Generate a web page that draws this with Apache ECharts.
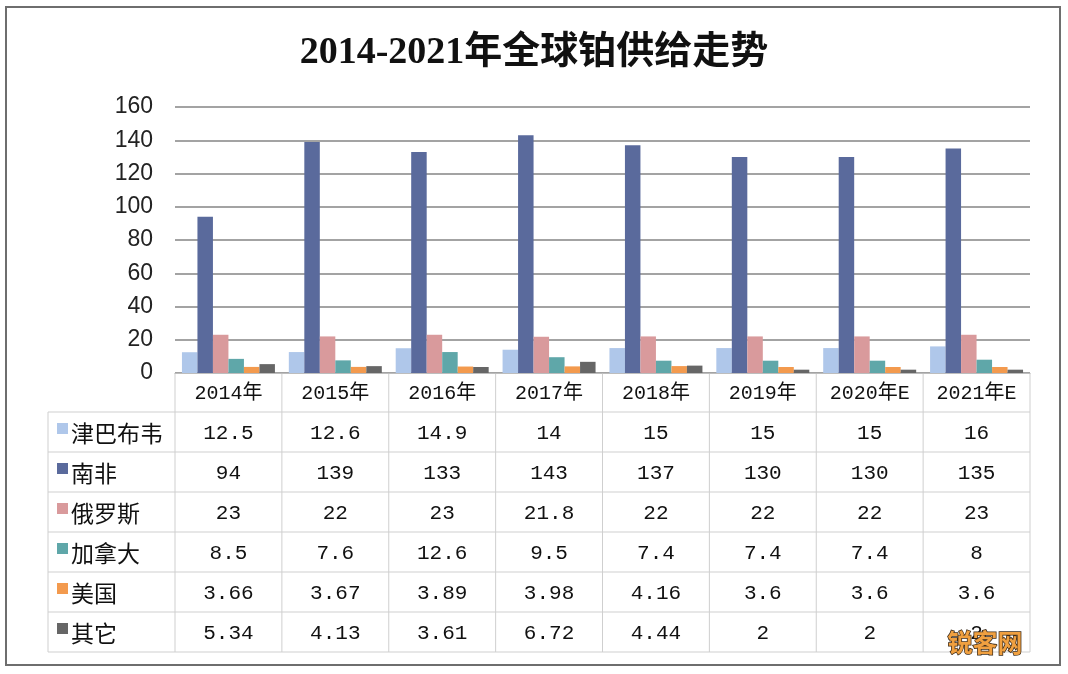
<!DOCTYPE html>
<html><head><meta charset="utf-8">
<script src="https://cdn.jsdelivr.net/npm/echarts@6/dist/echarts.min.js"></script>
<style>html,body{margin:0;padding:0;background:#fff}#c{width:1068px;height:674px}</style>
</head><body><div id="c"></div>
<script>
const titleText = '2014-2021年全球铂供给走势';
const categories = ['2014年','2015年','2016年','2017年','2018年','2019年','2020年E','2021年E'];
const seriesNames = ['津巴布韦','南非','俄罗斯','加拿大','美国','其它'];
const zimbabwe    = [12.5, 12.6, 14.9, 14, 15, 15, 15, 16];
const southAfrica = [94, 139, 133, 143, 137, 130, 130, 135];
const russia      = [23, 22, 23, 21.8, 22, 22, 22, 23];
const canada      = [8.5, 7.6, 12.6, 9.5, 7.4, 7.4, 7.4, 8];
const usa         = [3.66, 3.67, 3.89, 3.98, 4.16, 3.6, 3.6, 3.6];
const others      = [5.34, 4.13, 3.61, 6.72, 4.44, 2, 2, 2];
const watermark = '锐客网';

const allData = [zimbabwe, southAfrica, russia, canada, usa, others];
const colors = ['#AFC7EA', '#5A6A9C', '#D99A9C', '#5FA7A9', '#F39A4E', '#666666'];

const chart = echarts.init(document.getElementById('c'), null, {renderer: 'canvas'});
const monoFont = '"Liberation Mono", "Noto Sans CJK SC", monospace';
const cjkFont = '"Noto Sans CJK SC", sans-serif';

chart.setOption({
  backgroundColor: '#fff',
  animation: false,
  title: {
    text: titleText, left: 'center', top: 29,
    textStyle: {fontFamily: '"Liberation Serif", "Noto Sans CJK SC", serif', fontSize: 38, fontWeight: 'bold', color: '#111'}
  },
  grid: {left: 175, right: 38, top: 107, bottom: 301, containLabel: false},
  xAxis: {
    type: 'category', data: categories,
    axisLine: {show: true, lineStyle: {color: '#bdbdbd', width: 1}},
    axisTick: {show: false}, axisLabel: {show: false}, splitLine: {show: false}
  },
  yAxis: {
    type: 'value', min: 0, max: 160, interval: 20,
    axisLine: {show: false}, axisTick: {show: false},
    axisLabel: {fontSize: 23, color: '#222', margin: 22, fontFamily: '"Liberation Sans", Arial, sans-serif'},
    splitLine: {lineStyle: {color: '#848484', width: 1.5}}
  },
  series: seriesNames.map((n, i) => ({
    name: n, type: 'bar', data: allData[i],
    barGap: '0%', barCategoryGap: '13%',
    itemStyle: {color: colors[i]}
  }))
});

// Build data table beneath the plot using the axis scales
const centers = categories.map((c, i) => chart.convertToPixel({xAxisIndex: 0}, i));
const band = centers.length > 1 ? centers[1] - centers[0] : 100;
const y0 = chart.convertToPixel({yAxisIndex: 0}, 0);
const headerH = 39, rowH = 40;
const labelLeft = 48;
const tableLeft = centers[0] - band / 2;
const tableRight = centers[centers.length - 1] + band / 2;
const rowTop = y0 + headerH;
const tableBottom = rowTop + rowH * seriesNames.length;
const lineColor = '#cfcfcf';
const g = [];

// outer frame
g.push({type: 'rect', shape: {x: 6, y: 7, width: 1054, height: 658}, style: {fill: 'none', stroke: '#6e6e6e', lineWidth: 2}, z: 100});

// vertical lines of category columns
for (let i = 0; i <= categories.length; i++) {
  const x = tableLeft + band * i;
  g.push({type: 'line', shape: {x1: x, y1: y0, x2: x, y2: tableBottom}, style: {stroke: lineColor, lineWidth: 1}});
}
// left border of label column
g.push({type: 'line', shape: {x1: labelLeft, y1: rowTop, x2: labelLeft, y2: tableBottom}, style: {stroke: lineColor, lineWidth: 1}});
// horizontal lines
for (let r = 0; r <= seriesNames.length; r++) {
  const y = rowTop + rowH * r;
  g.push({type: 'line', shape: {x1: labelLeft, y1: y, x2: tableRight, y2: y}, style: {stroke: lineColor, lineWidth: 1}});
}
// header labels
categories.forEach((c, i) => {
  g.push({type: 'text', x: centers[i], y: y0 + headerH / 2 + 1,
    style: {text: c, fontSize: 20, fontFamily: monoFont, fill: '#111', align: 'center', verticalAlign: 'middle'}});
});
// rows
seriesNames.forEach((n, r) => {
  const top = rowTop + rowH * r;
  g.push({type: 'rect', shape: {x: 57, y: top + 11, width: 11, height: 11}, style: {fill: colors[r]}});
  g.push({type: 'text', x: 71, y: top + rowH / 2 + 1,
    style: {text: n, fontSize: 23, fontFamily: cjkFont, fill: '#111', align: 'left', verticalAlign: 'middle'}});
  allData[r].forEach((v, i) => {
    g.push({type: 'text', x: centers[i], y: top + rowH / 2 + 1,
      style: {text: String(v), fontSize: 21, fontFamily: monoFont, fill: '#111', align: 'center', verticalAlign: 'middle'}});
  });
});
// watermark
g.push({type: 'text', x: 985, y: 642, z: 50,
  style: {text: watermark, fontSize: 25, fontWeight: 'bold', fontFamily: cjkFont, fill: '#F0A040', stroke: '#3a2a1a', lineWidth: 1.5, align: 'center', verticalAlign: 'middle'}});

chart.setOption({graphic: g});
</script>
</body></html>
